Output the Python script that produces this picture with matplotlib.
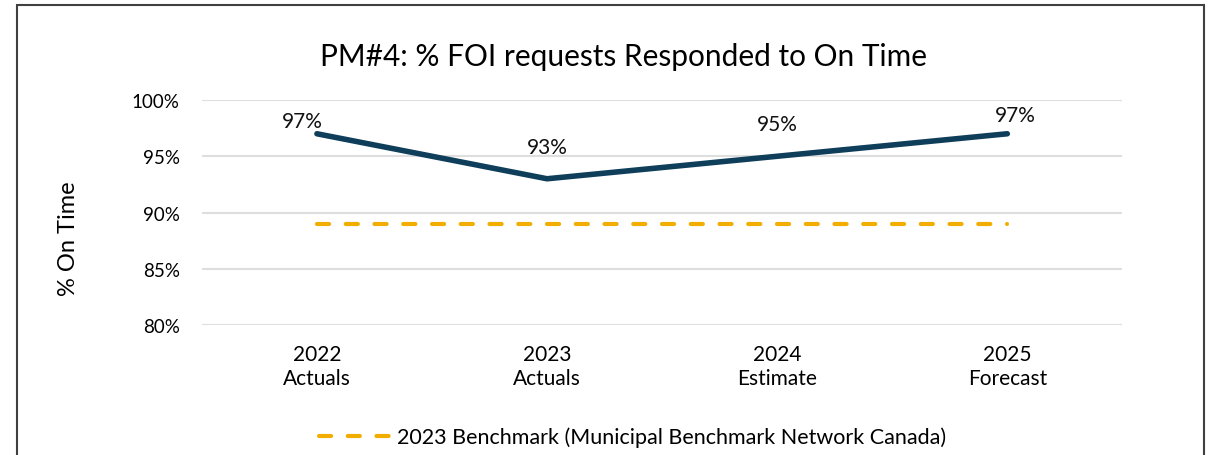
import matplotlib.pyplot as plt
from matplotlib.patches import Rectangle

plt.rcParams['font.family'] = ['Lato', 'DejaVu Sans']

categories = ["2022\nActuals", "2023\nActuals", "2024\nEstimate", "2025\nForecast"]
on_time = [97, 93, 95, 97]
benchmark = [89, 89, 89, 89]
label_text = ["97%", "93%", "95%", "97%"]

navy = '#0E3E5A'
gold = '#F2AE00'

fig = plt.figure(figsize=(12.16, 4.56), dpi=100)
ax = fig.add_axes([0.166, 0.285, 0.757, 0.4935])

x = list(range(len(categories)))
ax.plot(x, on_time, color=navy, lw=4, solid_capstyle='round', zorder=3)
ax.plot(x, benchmark, color=gold, lw=3, ls=(0, (2.9, 4.0)), dash_capstyle='round',
        zorder=3, label="2023 Benchmark (Municipal Benchmark Network Canada)")

# data labels
offsets = [(-15, 13), (0, 32), (0, 32), (8, 19)]
for i, (v, t) in enumerate(zip(on_time, label_text)):
    dx, dy = offsets[i]
    ax.annotate(t, (x[i], v), xytext=(dx, dy), textcoords='offset pixels',
                ha='center', va='center', fontsize=15, color='#111111')

ax.set_xlim(-0.5, 3.5)
ax.set_ylim(80, 100)
ax.set_yticks([80, 85, 90, 95, 100])
ax.set_yticklabels([f"{t}%" for t in [80, 85, 90, 95, 100]], fontsize=13.5)
ax.set_xticks(x)
ax.set_xticklabels(categories, fontsize=15, linespacing=1.2)
ax.tick_params(length=0, pad=16)
ax.tick_params(axis='x', pad=14)
ax.grid(axis='y', color='#dedede', lw=1.5)
ax.set_axisbelow(True)
for s in ax.spines.values():
    s.set_visible(False)

ax.set_ylabel("% On Time", fontsize=17)
ax.yaxis.set_label_coords(-0.133, 0.39)
fig.text(0.513, 0.875, "PM#4: % FOI requests Responded to On Time",
         ha='center', va='center', fontsize=21.5)

fig.legend(loc='center', bbox_to_anchor=(0.52, 0.04), frameon=False,
           fontsize=15.5, handlelength=3.3, handletextpad=0.3)

fig.patches.append(Rectangle((17 / 1216, -0.1), (1204 - 17) / 1216, 1.1 - 6 / 456,
                             transform=fig.transFigure, fill=False,
                             edgecolor='#404040', lw=1.5))

fig.savefig("out.png", dpi=100)
